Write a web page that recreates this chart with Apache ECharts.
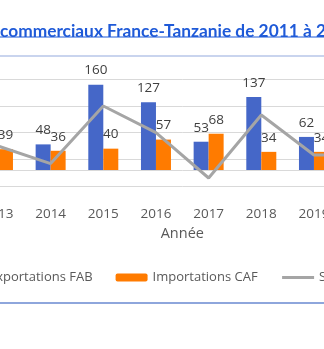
<!DOCTYPE html>
<html>
<head>
<meta charset="utf-8">
<script src="https://cdn.jsdelivr.net/npm/echarts@6/dist/echarts.min.js"></script>
<style>
html,body{margin:0;padding:0;overflow:hidden;background:#fff;width:324px;height:349px;}
#c{position:absolute;left:-200px;top:0;width:720px;height:349px;}
</style>
</head>
<body>
<div id="c"></div>
<script>
const years = ['2011','2012','2013','2014','2015','2016','2017','2018','2019','2020','2021','2022'];
const exportsFAB = [70, 95, 84, 48, 160, 127, 53, 137, 62, 60, 75, 90];
const importsCAF = [30, 45, 39, 36, 40, 57, 68, 34, 34, 32, 40, 50];
const solde = [40, 50, 45, 12, 120, 70, -15, 103, 28, 28, 35, 40];
const seriesNames = ['Exportations FAB', 'Importations CAF', 'Solde'];
const titleHead = 'Échanges ';
const titleTail = 'commerciaux France-Tanzanie de 2011 à 2022';
const axisName = 'Année';

const OFF = 200; // container x offset relative to window
const TFONT = '"Lato"';
const cv = document.createElement('canvas').getContext('2d');
function measure(t, size){ cv.font = 'bold ' + size + 'px ' + TFONT; return cv.measureText(t).width; }
const refW = measure('commerciaux France-Tanzanie de 2011 à', 100);
const tSize = 100 * 312 / refW;
const headW = measure(titleHead, tSize);
const fullW = measure(titleHead + titleTail, tSize);
const tColor = '#1f5ad8';

const chart = echarts.init(document.getElementById('c'), null, {renderer: 'canvas'});
const lblFont = {fontFamily: 'Open Sans', fontSize: 13.5, color: '#404040'};
chart.setOption({
  animation: false,
  graphic: [
    {type: 'rect', shape: {x: 0, y: 55, width: 720, height: 2}, style: {fill: '#c9d4ee'}},
    {type: 'rect', shape: {x: 0, y: 302, width: 720, height: 2}, style: {fill: '#8ea6dc'}},
    {type: 'text', x: OFF - headW, y: 39.5, style: {text: titleHead + titleTail, fill: tColor, font: 'bold ' + tSize + 'px ' + TFONT, verticalAlign: 'bottom', align: 'left'}},
    {type: 'rect', shape: {x: OFF - headW, y: 36.5, width: fullW, height: 1}, style: {fill: tColor}}
  ],
  legend: {
    left: 152, top: 271, padding: 0, itemGap: 23, itemWidth: 32, itemHeight: 8,
    data: [
      {name: seriesNames[0]},
      {name: seriesNames[1]},
      {name: seriesNames[2], itemStyle: {color: 'rgba(0,0,0,0)', borderWidth: 0, opacity: 0}, lineStyle: {color: '#a5a5a5', width: 3}}
    ],
    textStyle: {fontFamily: 'Open Sans', fontSize: 13, color: '#595959'}
  },
  grid: {left: 66.3, right: 21.7, top: 79.3, bottom: 163},
  xAxis: {
    type: 'category', data: years,
    axisTick: {show: false},
    axisLine: {onZero: true, onZeroAxisIndex: 0, lineStyle: {color: '#d9d9d9', width: 1}},
    axisLabel: {margin: 21, fontFamily: 'Open Sans', fontSize: 13.5, color: '#595959'},
    name: axisName, nameLocation: 'middle', nameGap: 40,
    nameTextStyle: {fontFamily: 'Open Sans', fontSize: 14.5, color: '#595959'}
  },
  yAxis: [
    {type: 'value', min: -30, max: 170, splitLine: {show: false}, axisLabel: {show: false}, axisLine: {show: false}, axisTick: {show: false}},
    {type: 'value', min: 0, max: 200, interval: 50, position: 'left', splitLine: {show: true, lineStyle: {color: '#d9d9d9', width: 1}}, axisLabel: {show: false}, axisLine: {show: false}, axisTick: {show: false}}
  ],
  series: [
    {name: seriesNames[0], type: 'bar', data: exportsFAB, barWidth: 15, barGap: '0%', itemStyle: {color: '#4567c8'},
     label: Object.assign({show: true, position: 'top', distance: 7}, lblFont)},
    {name: seriesNames[1], type: 'bar', data: importsCAF, barWidth: 15, barGap: '0%', itemStyle: {color: '#ff7b00'},
     label: Object.assign({show: true, position: 'top', distance: 7}, lblFont)},
    {name: seriesNames[2], type: 'line', data: solde, symbol: 'none', lineStyle: {color: '#a5a5a5', width: 3}, itemStyle: {color: '#a5a5a5'}, z: 3}
  ]
});
</script>
</body>
</html>
